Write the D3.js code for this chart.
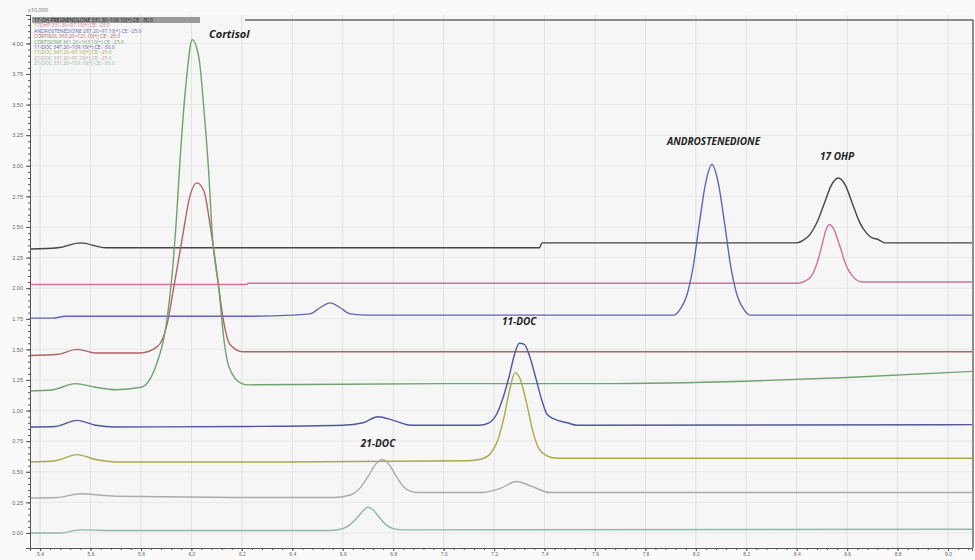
<!DOCTYPE html>
<html>
<head>
<meta charset="utf-8">
<script src="https://cdn.jsdelivr.net/npm/d3@7"></script>
<style>
  body { margin: 0; background: #fafafa; }
  svg { display: block; font-family: "Open Sans", "DejaVu Sans", sans-serif; }
</style>
</head>
<body>
<div id="chart"></div>
<script>
// Retention time ticks and intensity ticks (x10,000)
var timeTicks = [5.4, 5.6, 5.8, 6.0, 6.2, 6.4, 6.6, 6.8, 7.0, 7.2, 7.4, 7.6, 7.8, 8.0, 8.2, 8.4, 8.6, 8.8, 9.0];
var intensityTicks = [0, 0.25, 0.5, 0.75, 1, 1.25, 1.5, 1.75, 2, 2.25, 2.5, 2.75, 3, 3.25, 3.5, 3.75, 4];

var legendLabels = [
    "17-OH-PREGNENOLONE 331.30>109.10(+) CE: -30.0",
    "17OHP 331.30>97.10(+) CE: -25.0",
    "ANDROSTENEDIONE 287.20>97.10(+) CE: -25.0",
    "CORTISOL 363.20>121.10(+) CE: -25.0",
    "CORTISONE 361.20>163.10(+) CE: -25.0",
    "11-DOC 347.20>109.10(+) CE: -30.0",
    "11-DOC 347.20>97.10(+) CE: -25.0",
    "21-DOC 331.20>97.10(+) CE: -25.0",
    "21-DOC 331.20>109.10(+) CE: -30.0"
];
var traceColors = ["#454545", "#d2709a", "#5f67b0", "#b06464", "#6fa26f", "#4f57a0", "#a9a948", "#a6aea6", "#8fb8a6"];

// [time, intensity]
var trace17OHPreg = [[5.36,2.32],[5.47,2.33],[5.56,2.37],[5.66,2.33],[6.225,2.33],[7.38,2.33],[7.39,2.37],[8.40,2.37],
    [8.425,2.39],[8.453,2.44],[8.481,2.54],[8.509,2.69],[8.537,2.84],[8.565,2.90],[8.593,2.84],[8.621,2.69],[8.649,2.54],
    [8.677,2.45],[8.70,2.41],[8.72,2.40],[8.75,2.37],[9.095,2.37]];
var trace17OHP = [[5.36,2.03],[6.22,2.03],[6.225,2.04],[8.40,2.04],[8.45,2.08],[8.48,2.20],[8.50,2.35],[8.515,2.47],
    [8.53,2.52],[8.545,2.49],[8.57,2.35],[8.595,2.19],[8.625,2.09],[8.66,2.05],[9.095,2.05]];
var traceAndro = [[5.36,1.755],[5.45,1.755],[5.50,1.77],[6.225,1.77],[6.40,1.78],[6.47,1.79],[6.51,1.84],[6.55,1.88],
    [6.59,1.84],[6.63,1.79],[6.70,1.78],[7.90,1.78],[7.914,1.78],[7.939,1.83],[7.964,1.94],[7.989,2.17],[8.014,2.53],
    [8.039,2.86],[8.064,3.01],[8.089,2.86],[8.114,2.53],[8.139,2.17],[8.164,1.94],[8.189,1.83],[8.214,1.78],[9.095,1.78]];
var traceCortisol = [[5.36,1.45],[5.47,1.46],[5.547,1.50],[5.62,1.47],[5.796,1.47],[5.864,1.52],[5.903,1.70],[5.927,1.97],
    [5.963,2.40],[5.995,2.76],[6.022,2.86],[6.05,2.79],[6.074,2.52],[6.102,2.11],[6.125,1.76],[6.153,1.54],[6.205,1.48],[9.095,1.48]];
var traceCortisone = [[5.36,1.16],[5.45,1.17],[5.54,1.22],[5.62,1.19],[5.70,1.17],[5.80,1.19],[5.86,1.37],[5.90,1.70],
    [5.925,2.15],[5.94,2.55],[5.955,3.05],[5.98,3.70],[6.003,4.03],[6.03,3.88],[6.05,3.45],[6.07,2.90],[6.08,2.52],
    [6.11,1.97],[6.13,1.56],[6.15,1.35],[6.20,1.22],[6.225,1.21],[7.00,1.22],[7.60,1.22],[8.20,1.24],[8.60,1.27],[9.095,1.32]];
var trace11DOC = [[5.36,0.866],[5.46,0.87],[5.547,0.92],[5.62,0.88],[5.70,0.866],[6.225,0.87],[6.60,0.88],[6.68,0.90],
    [6.74,0.95],[6.80,0.92],[6.87,0.88],[7.14,0.88],[7.18,0.90],[7.21,0.97],[7.235,1.10],[7.26,1.28],[7.28,1.45],
    [7.30,1.55],[7.32,1.54],[7.34,1.45],[7.365,1.27],[7.39,1.08],[7.41,0.97],[7.44,0.93],[7.49,0.90],[7.53,0.88],[9.095,0.885]];
var trace11DOCb = [[5.36,0.58],[5.46,0.59],[5.547,0.64],[5.62,0.60],[5.70,0.58],[6.225,0.58],[7.10,0.59],[7.16,0.61],
    [7.19,0.66],[7.215,0.76],[7.24,0.95],[7.26,1.15],[7.283,1.31],[7.305,1.25],[7.33,1.05],[7.355,0.82],[7.38,0.68],
    [7.41,0.63],[7.45,0.61],[9.095,0.61]];
var trace21DOC = [[5.36,0.286],[5.47,0.29],[5.56,0.32],[5.70,0.30],[6.225,0.29],[6.57,0.29],[6.63,0.31],[6.67,0.37],
    [6.70,0.46],[6.73,0.56],[6.756,0.60],[6.78,0.57],[6.81,0.47],[6.84,0.38],[6.87,0.34],[6.90,0.33],[7.15,0.33],
    [7.22,0.36],[7.29,0.42],[7.35,0.38],[7.42,0.33],[9.095,0.33]];
var trace21DOCb = [[5.36,0.0],[5.48,0.0],[5.56,0.025],[5.70,0.02],[6.225,0.02],[6.55,0.02],[6.60,0.035],[6.63,0.07],
    [6.66,0.13],[6.68,0.18],[6.70,0.21],[6.72,0.19],[6.74,0.14],[6.77,0.07],[6.80,0.035],[6.84,0.025],[9.095,0.03]];

var traces = [trace17OHPreg, trace17OHP, traceAndro, traceCortisol, traceCortisone, trace11DOC, trace11DOCb, trace21DOC, trace21DOCb];

// peak names and where they sit
var peakNames = ["Cortisol", "ANDROSTENEDIONE", "17 OHP", "11-DOC", "21-DOC"];
var peakTimes = [6.07, 8.07, 8.56, 7.30, 6.74];
var peakLevels = [4.04, 3.17, 3.05, 1.70, 0.70];

var width = 975, height = 560;
var margin = {top: 15, right: 3, bottom: 12, left: 30};

var svg = d3.select("#chart").append("svg")
    .attr("width", width)
    .attr("height", height);

var x = d3.scaleLinear().domain([5.36, 9.095]).range([margin.left, width - margin.right]);
var y = d3.scaleLinear().domain([-0.123, 4.232]).range([height - margin.bottom, margin.top]);

// plot background
svg.append("rect")
    .attr("x", x.range()[0]).attr("y", y.range()[1])
    .attr("width", x.range()[1] - x.range()[0])
    .attr("height", y.range()[0] - y.range()[1])
    .style("fill", "#f6f6f6");

// grid
svg.append("g").selectAll("line").data(timeTicks).enter().append("line")
    .attr("x1", function(d) { return x(d); }).attr("x2", function(d) { return x(d); })
    .attr("y1", y.range()[1]).attr("y2", y.range()[0])
    .style("stroke", "#e1e1e1");

svg.append("g").selectAll("line").data(intensityTicks).enter().append("line")
    .attr("x1", x.range()[0]).attr("x2", x.range()[1])
    .attr("y1", function(d) { return y(d); }).attr("y2", function(d) { return y(d); })
    .style("stroke", "#e8e8e8");

// traces
var line = d3.line()
    .x(function(d) { return x(d[0]); })
    .y(function(d) { return y(d[1]); })
    .curve(d3.curveMonotoneX);

svg.append("g").selectAll("path").data(traces).enter().append("path")
    .attr("d", line)
    .style("fill", "none")
    .style("stroke", function(d, i) { return traceColors[i]; })
    .style("stroke-width", 1.4);

// frame on the right part
svg.append("path")
    .attr("d", "M 245 20 L " + (width - 2) + " 20 L " + (width - 2) + " " + y.range()[0])
    .style("fill", "none").style("stroke", "#222").style("stroke-width", 1);

// axes
var yAxis = d3.axisLeft(y).tickValues(intensityTicks).tickSize(4).tickFormat(d3.format(".2f"));
var yMinor = d3.axisLeft(y).tickValues(d3.range(0, 4.21, 0.05)).tickSize(2).tickFormat("");
var xAxis = d3.axisBottom(x).tickValues(timeTicks).tickSize(3).tickPadding(1).tickFormat(d3.format(".1f"));
var xMinor = d3.axisBottom(x).tickValues(d3.range(5.36, 9.09, 0.04)).tickSize(2).tickFormat("");

svg.append("g").attr("transform", "translate(" + margin.left + ",0)").call(yAxis);
svg.append("g").attr("transform", "translate(" + margin.left + ",0)").call(yMinor);
svg.append("g").attr("class", "xaxis").attr("transform", "translate(0," + y.range()[0] + ")").call(xAxis);
svg.append("g").attr("transform", "translate(0," + y.range()[0] + ")").call(xMinor);

svg.selectAll(".domain, .tick line").style("stroke", "#555");
svg.selectAll(".tick text").style("fill", "#666").style("font-size", "5.5px");
svg.selectAll(".xaxis .tick text").style("font-size", "5px");

svg.append("text")
    .attr("x", 28).attr("y", 12)
    .style("font-size", "5.5px").style("fill", "#666")
    .text("x10,000");

// legend
var legend = svg.append("g");
legend.append("rect")
    .attr("x", 32).attr("y", 17).attr("width", 168).attr("height", 6)
    .style("fill", "#9a9a9a");
legend.selectAll("text").data(legendLabels).enter().append("text")
    .attr("x", 34)
    .attr("y", function(d, i) { return 22 + i * 5.4; })
    .style("font-size", "5px")
    .style("fill", function(d, i) { return i === 0 ? "#111" : traceColors[i]; })
    .text(function(d) { return d; });

// peak names
svg.append("g").selectAll("text").data(peakNames).enter().append("text")
    .attr("x", function(d, i) { return x(peakTimes[i]); })
    .attr("y", function(d, i) { return y(peakLevels[i]); })
    .attr("text-anchor", function(d, i) { return i === 0 ? "start" : "middle"; })
    .style("font-size", function(d, i) { return i === 0 ? "11px" : "10px"; })
    .style("font-weight", "bold")
    .style("font-style", "italic")
    .style("fill", "#222")
    .text(function(d) { return d; });
</script>
</body>
</html>
